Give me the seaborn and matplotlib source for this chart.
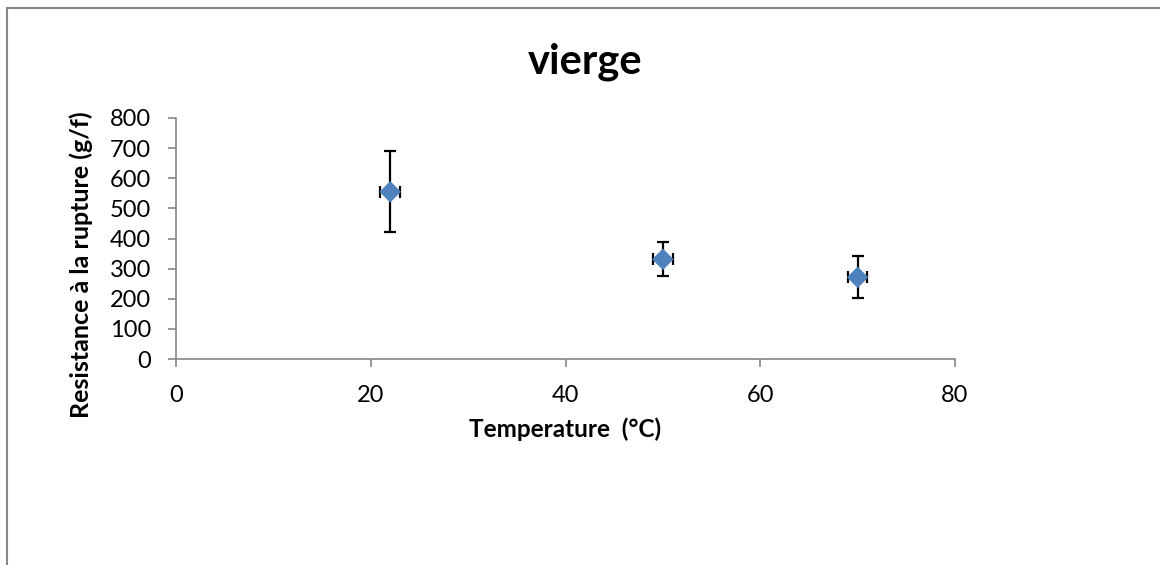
import pandas as pd
import matplotlib.pyplot as plt
import seaborn as sns
from matplotlib.patches import Rectangle

# Waarden
temperature = [22, 50, 70]
resistance = [555, 331, 271]
err_resistance = [135, 57, 70]
err_temperature = [1, 1, 1]

x_ticks = [0, 20, 40, 60, 80]
y_ticks = [0, 100, 200, 300, 400, 500, 600, 700, 800]

df = pd.DataFrame({'Temperature': temperature, 'Resistance': resistance})

sns.set_style('white')
plt.rcParams['font.family'] = ['Lato', 'DejaVu Sans']
plt.rcParams['text.color'] = 'black'
plt.rcParams['axes.labelcolor'] = 'black'

fig = plt.figure(figsize=(11.6, 5.65), dpi=100)
ax = fig.add_axes([176 / 1160, 1 - 359 / 565, (955 - 176) / 1160, (359 - 118) / 565])

# Kader rond de grafiek
fig.patches.append(Rectangle((7 / 1160, -0.1), 1.2, (565 - 8) / 565 + 0.1,
                             transform=fig.transFigure, fill=False,
                             edgecolor='#868686', linewidth=1.5))

ax.errorbar(temperature, resistance, yerr=err_resistance, xerr=err_temperature,
            fmt='none', ecolor='black', elinewidth=1.6, capsize=4, capthick=1.6, zorder=2)
sns.scatterplot(data=df, x='Temperature', y='Resistance', marker='D', s=120,
                color='#4F81BD', edgecolor='none', ax=ax, zorder=3)

ax.set_xlim(0, 80)
ax.set_ylim(0, 800)
ax.set_xticks(x_ticks)
ax.set_yticks(y_ticks)
ax.tick_params(axis='both', labelsize=17, colors='#868686', labelcolor='black',
               length=6, width=1.2, direction='out', bottom=True, left=True)
ax.tick_params(axis='x', pad=13)
ax.tick_params(axis='y', pad=12)
sns.despine(ax=ax)
for side in ['left', 'bottom']:
    ax.spines[side].set_color('#868686')
    ax.spines[side].set_linewidth(1.2)

ax.set_xlabel('Temperature  (°C)', fontsize=17.5, fontweight='bold', labelpad=8, color='black')
ax.set_ylabel('Resistance à la rupture (g/f)', fontsize=18, fontweight='bold', color='black')
ax.yaxis.set_label_coords((93 - 176) / 779, (359 - 265) / 241)
fig.text(585 / 1160, 1 - 62 / 565, 'vierge', fontsize=30, fontweight='bold',
         ha='center', va='center', color='black')

plt.savefig('out.png', dpi=100)
